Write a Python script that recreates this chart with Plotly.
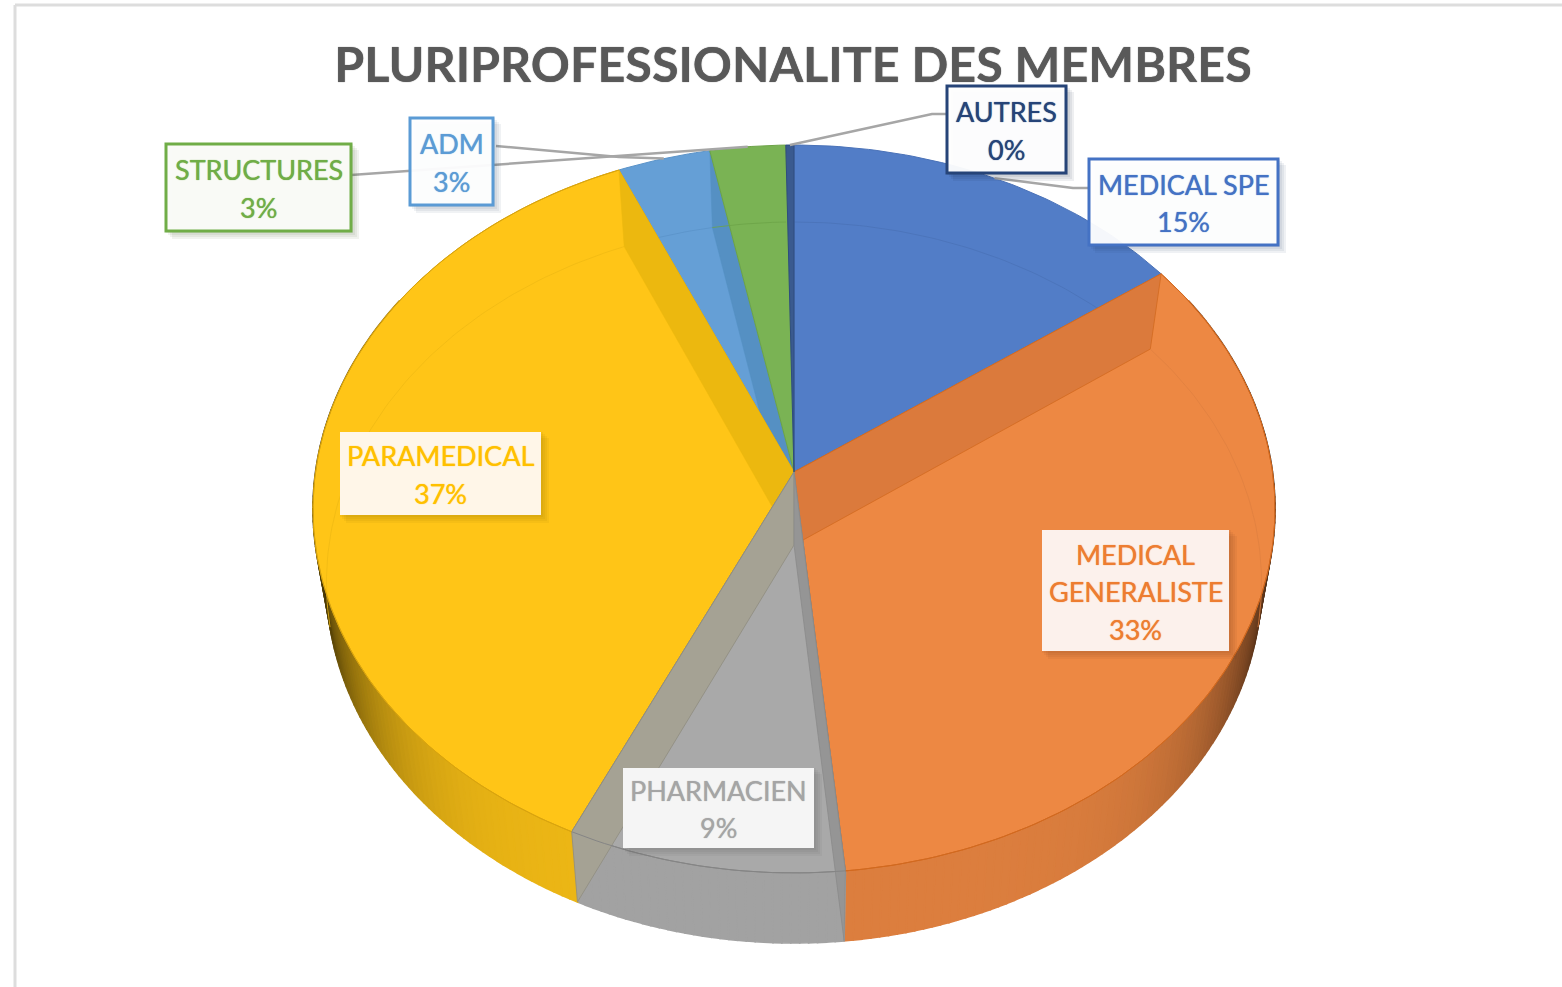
import math
import plotly.graph_objects as go

# ---- data -----------------------------------------------------------------
categories = ["MEDICAL SPE", "MEDICAL GENERALISTE", "PHARMACIEN", "PARAMEDICAL", "ADM", "STRUCTURES", "AUTRES"]
values = [15.1, 33.36, 8.47, 36.52, 3.45, 2.8, 0.3]
percent_labels = ["15%", "33%", "9%", "37%", "3%", "3%", "0%"]
title = "PLURIPROFESSIONALITE DES MEMBRES"
label_lines = [["MEDICAL SPE"], ["MEDICAL", "GENERALISTE"], ["PHARMACIEN"], ["PARAMEDICAL"], ["ADM"], ["STRUCTURES"], ["AUTRES"]]

# ---- styles ---------------------------------------------------------------
face = ["#527DC7", "#ED8843", "#A9A9A9", "#FFC517", "#659FD6", "#7AB354", "#3A5A8F"]
edge = ["#4A72B8", "#D2691F", "#858585", "#D9A40E", "#5A93C9", "#6CA347", "#2F4D7E"]
arc_col = ["#4A72B8", "#E08040", "#A9A9A9", "#F0BA14", "#5A93C9", "#6CA347", "#34527F"]
text_col = ["#4472C4", "#ED7D31", "#A5A5A5", "#FFC000", "#5B9BD5", "#70AD47", "#264478"]

TOP = dict(cx=794, cy=472, rx=478.5, ry=360.2, k=-0.1016)
BOT = dict(cx=794, cy=545, rx=465.0, ry=356.6, k=-0.104)

# label box: x0, x1, y0, y1, border colour, fill
boxes = [
    (1089, 1278, 159, 245, "#4472C4", "rgba(255,255,255,0.95)"),
    (1042, 1229, 530, 651, None, "#FCF1EC"),
    (623, 814, 768, 848, None, "#F5F5F5"),
    (340, 541, 432, 515, None, "#FFF6E8"),
    (410, 493, 118, 205, "#5B9BD5", "rgba(255,255,255,0.95)"),
    (166, 351, 144, 231, "#70AD47", "rgba(250,251,248,0.97)"),
    (947, 1066, 86, 173, "#264478", "rgba(255,255,255,0.95)"),
]
# leader waypoints between the slice rim and its label (index -> points)
leader_paths = {
    0: [(1073, 188), (1089, 188)],
    4: [(619, 157), (496, 146)],
    5: [(495, 165), (351, 175)],
    6: [(932, 114), (947, 114)],
}
LINE_PITCH = 37.5
FONT = "Lato, Carlito, sans-serif"


def rim(theta, g):
    u, v = math.sin(theta), -math.cos(theta)
    d = 1 + g["k"] * v
    return g["cx"] + g["rx"] * u / d, g["cy"] + g["ry"] * v / d


def arc(a, b, g, step=math.radians(1)):
    n = max(2, int(abs(b - a) / step) + 1)
    return [rim(a + (b - a) * i / n, g) for i in range(n + 1)]


def mix(hex_col, f):
    r, g, b = int(hex_col[1:3], 16), int(hex_col[3:5], 16), int(hex_col[5:7], 16)
    return f"rgb({int(r*f)},{int(g*f)},{int(b*f)})"


fig = go.Figure()


def poly(pts, fill, line=None, lw=1.0):
    fig.add_trace(go.Scatter(
        x=[p[0] for p in pts] + [pts[0][0]], y=[p[1] for p in pts] + [pts[0][1]],
        mode="lines", fill="toself", fillcolor=fill,
        line=dict(color=line or fill, width=lw), hoverinfo="skip", showlegend=False))


def path(pts, color, lw):
    fig.add_trace(go.Scatter(
        x=[p[0] for p in pts], y=[p[1] for p in pts], mode="lines",
        line=dict(color=color, width=lw), hoverinfo="skip", showlegend=False))


# cumulative angles
total = sum(values)
angles = [0.0]
for val in values:
    angles.append(angles[-1] + val / total * 2 * math.pi)

# outer wall, shaded along the circumference
wall_lo, wall_hi = math.radians(60), math.radians(300)
for i in (1, 2, 3):
    a = max(angles[i], wall_lo)
    b = min(angles[i + 1], wall_hi)
    n = int((b - a) / math.radians(1)) + 1
    for j in range(n):
        t0 = a + (b - a) * j / n
        t1 = a + (b - a) * (j + 1) / n
        u = abs(math.sin((t0 + t1) / 2))
        f = 0.96 if i == 2 else 0.93 - 0.70 * u ** 6
        c = mix(face[i], f)
        poly([rim(t0, TOP), rim(t1, TOP), rim(t1, BOT), rim(t0, BOT)], c, c, 1.6)


def face_pts(i):
    return [(TOP["cx"], TOP["cy"])] + arc(angles[i], angles[i + 1], TOP)


def wall_quad(a):
    return [(TOP["cx"], TOP["cy"]), rim(a, TOP), rim(a, BOT), (BOT["cx"], BOT["cy"])]


LIM = math.radians(103)


def far_arc(i):
    # far rim of the lower disc, seen through the translucent top
    for lo, hi in ((angles[i], min(angles[i + 1], LIM)),
                   (max(angles[i], 2 * math.pi - LIM), angles[i + 1])):
        if hi > lo:
            path(arc(lo, hi, BOT), arc_col[i], 0.8)


# top faces, with the inner walls seen through them
poly(face_pts(0), face[0], edge[0])
far_arc(0)
poly(face_pts(1), face[1], edge[1])
poly(wall_quad(angles[1]), "#DB7A3C", "#D2691F", 0.8)
far_arc(1)
poly(face_pts(4), face[4], edge[4])
far_arc(4)
poly(wall_quad(angles[5]), "#5590C3", "#5590C3", 0.5)
poly(face_pts(5), face[5], edge[5])
far_arc(5)
poly(face_pts(3), face[3], edge[3])
poly(wall_quad(angles[4]), "#ECB80F", "#ECB80F", 0.5)
far_arc(3)
poly(face_pts(6), face[6], edge[6])
poly(face_pts(2), face[2], edge[2])
poly(wall_quad(angles[3]), "#A5A294", "#8F8D80", 0.8)
poly(wall_quad(angles[2]), "#959595", "#8A8A8A", 0.8)

# front rim of the top disc
for i in (1, 2, 3):
    path(arc(angles[i], angles[i + 1], TOP), edge[i], 1)

# leaders
for i, pts in leader_paths.items():
    mid = (angles[i] + angles[i + 1]) / 2
    path([rim(mid, TOP)] + pts, "#A6A6A6", 2.5)

# label boxes
shapes = [
    dict(type="line", x0=15, x1=1562, y0=5, y1=5, line=dict(color="#DDDDDD", width=3), layer="below"),
    dict(type="line", x0=15, x1=15, y0=5, y1=987, line=dict(color="#DDDDDD", width=3), layer="below"),
]
annotations = []
for i, (x0, x1, y0, y1, border, bg) in enumerate(boxes):
    rgb = text_col[i]
    shadow = f"rgba({int(rgb[1:3],16)//2},{int(rgb[3:5],16)//2},{int(rgb[5:7],16)//2},0.07)"
    for off in (2, 4, 6, 8):
        shapes.append(dict(type="rect", x0=x0 + off - 2, x1=x1 + off, y0=y0 + off - 2, y1=y1 + off,
                           fillcolor=shadow, line=dict(width=0), layer="above"))
    shapes.append(dict(type="rect", x0=x0, x1=x1, y0=y0, y1=y1, fillcolor=bg,
                       line=dict(color=border or "rgba(0,0,0,0)", width=3 if border else 0), layer="above"))
    lines = label_lines[i] + [percent_labels[i]]
    cy = (y0 + y1) / 2 + 1
    for j, line in enumerate(lines):
        annotations.append(dict(
            x=(x0 + x1) / 2, y=cy + (j - (len(lines) - 1) / 2) * LINE_PITCH, xref="x", yref="y",
            showarrow=False, xanchor="center", yanchor="middle", align="center", text=line,
            font=dict(family=FONT, size=27, color=rgb, shadow=f"0 0 1px {rgb}")))

fig.update_layout(
    width=1562, height=987, margin=dict(l=0, r=0, t=0, b=0),
    paper_bgcolor="white", plot_bgcolor="white", showlegend=False,
    title=dict(text=f"<b>{title}</b>", x=793 / 1562, y=1 - 65 / 987, xanchor="center", yanchor="middle",
               xref="paper", yref="paper",
               font=dict(family=FONT, size=48.5, color="#595959", shadow="0 0 1px #595959")),
    xaxis=dict(range=[0, 1562], visible=False, fixedrange=True),
    yaxis=dict(range=[987, 0], visible=False, fixedrange=True),
    shapes=shapes, annotations=annotations,
)
fig.write_html("out.html", config={"displayModeBar": False},
               post_script="document.body.style.margin='0';document.body.style.overflow='hidden';")
